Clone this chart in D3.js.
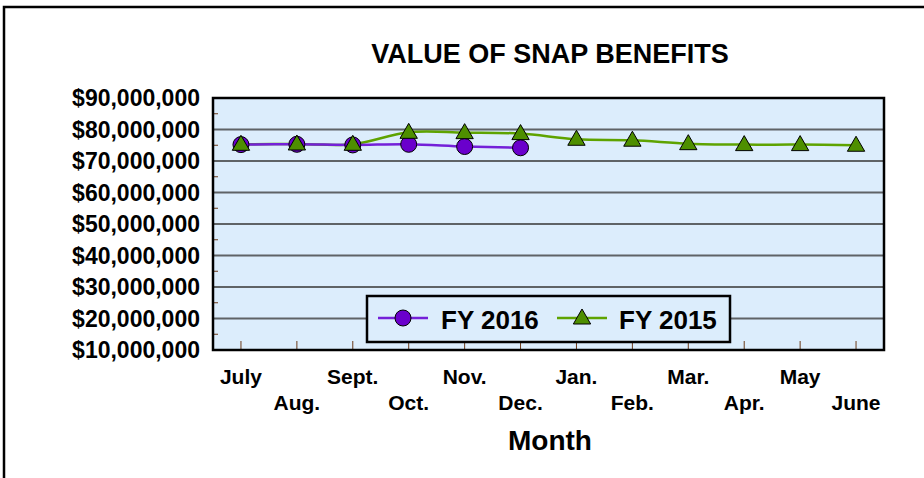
<!DOCTYPE html>
<html>
<head>
<meta charset="utf-8">
<script src="https://cdn.jsdelivr.net/npm/d3@7"></script>
<style>
body { margin: 0; background: #fff; }
svg text { font-family: Arial, "Liberation Sans", sans-serif; font-weight: bold; fill: #000; }
</style>
</head>
<body>
<svg id="chart" width="924" height="478"></svg>
<script>
// data
var months = ["July", "Aug.", "Sept.", "Oct.", "Nov.", "Dec.", "Jan.", "Feb.", "Mar.", "Apr.", "May", "June"];
var fy2016 = [75200000, 75300000, 75100000, 75300000, 74600000, 74200000];
var fy2015 = [75300000, 75400000, 75300000, 79100000, 79000000, 78700000, 76900000, 76600000, 75500000, 75200000, 75200000, 75000000];
var yTicks = [10000000, 20000000, 30000000, 40000000, 50000000, 60000000, 70000000, 80000000, 90000000];
var minorTicks = [15000000, 25000000, 35000000, 45000000, 55000000, 65000000, 75000000, 85000000];

var svg = d3.select("#chart");

// outer frame (only top/left visible)
svg.append("rect")
    .attr("x", 4).attr("y", 7)
    .attr("width", 940).attr("height", 500)
    .attr("fill", "none")
    .attr("stroke", "#000")
    .attr("stroke-width", 2.5);

var pLeft = 213, pTop = 98, pRight = 884, pBottom = 350;

var x = d3.scaleBand().domain(months).range([pLeft, pRight]);
var y = d3.scaleLinear().domain([10000000, 90000000]).range([pBottom, pTop]);

// plot background
svg.append("rect")
    .attr("x", pLeft).attr("y", pTop)
    .attr("width", pRight - pLeft).attr("height", pBottom - pTop)
    .attr("fill", "#dcedfc");

// gridlines
svg.append("g").selectAll("line")
    .data(yTicks.slice(1, -1))
    .enter().append("line")
    .attr("x1", pLeft).attr("x2", pRight)
    .attr("y1", function(d){ return y(d); })
    .attr("y2", function(d){ return y(d); })
    .attr("stroke", "#5f6366")
    .attr("stroke-width", 1.8);

// minor ticks on y axis (inside)
svg.append("g").selectAll("line")
    .data(minorTicks)
    .enter().append("line")
    .attr("x1", pLeft).attr("x2", pLeft + 5)
    .attr("y1", function(d){ return y(d); })
    .attr("y2", function(d){ return y(d); })
    .attr("stroke", "#6b3a1a")
    .attr("stroke-width", 1);

// x ticks (inside, pointing up)
svg.append("g").selectAll("line")
    .data(months)
    .enter().append("line")
    .attr("x1", function(d){ return x(d) + x.bandwidth() / 2; })
    .attr("x2", function(d){ return x(d) + x.bandwidth() / 2; })
    .attr("y1", pBottom).attr("y2", pBottom - 9)
    .attr("stroke", "#6b3a1a")
    .attr("stroke-width", 1);

// y labels
svg.append("g").selectAll("text")
    .data(yTicks)
    .enter().append("text")
    .attr("x", 200)
    .attr("y", function(d){ return y(d); })
    .attr("dy", "0.36em")
    .attr("text-anchor", "end")
    .attr("font-size", "23px")
    .text(function(d){ return d3.format("$,")(d); });

// x labels, staggered
svg.append("g").selectAll("text")
    .data(months)
    .enter().append("text")
    .attr("x", function(d){ return x(d) + x.bandwidth() / 2; })
    .attr("y", function(d, i){ return i % 2 === 0 ? 384 : 410; })
    .attr("text-anchor", "middle")
    .attr("font-size", "21px")
    .text(function(d){ return d; });

// titles
svg.append("text")
    .attr("x", 550).attr("y", 63)
    .attr("text-anchor", "middle")
    .attr("font-size", "27px")
    .text("VALUE OF SNAP BENEFITS");

svg.append("text")
    .attr("x", 550).attr("y", 450)
    .attr("text-anchor", "middle")
    .attr("font-size", "28px")
    .text("Month");

var cx = function(d, i){ return x(months[i]) + x.bandwidth() / 2; };

var line = d3.line()
    .x(cx)
    .y(function(d){ return y(d); })
    .curve(d3.curveCatmullRom.alpha(0.5));

var purple = "#6a00cc", purpleLine = "#7420d8";
var green = "#4e8f00", greenLine = "#5ea300";

svg.append("path")
    .datum(fy2015)
    .attr("d", line)
    .attr("fill", "none")
    .attr("stroke", greenLine)
    .attr("stroke-width", 2.5);

svg.append("path")
    .datum(fy2016)
    .attr("d", line)
    .attr("fill", "none")
    .attr("stroke", purpleLine)
    .attr("stroke-width", 2.5);

var tri = d3.symbol().type(d3.symbolTriangle).size(130);

svg.append("g").selectAll("circle")
    .data(fy2016)
    .enter().append("circle")
    .attr("cx", cx)
    .attr("cy", function(d){ return y(d); })
    .attr("r", 8)
    .attr("fill", purple)
    .attr("stroke", "#000")
    .attr("stroke-width", 1);

svg.append("g").selectAll("path")
    .data(fy2015)
    .enter().append("path")
    .attr("d", tri)
    .attr("transform", function(d, i){ return "translate(" + cx(d, i) + "," + (y(d) + 1) + ")"; })
    .attr("fill", green)
    .attr("stroke", "#000")
    .attr("stroke-width", 1);

// plot border
svg.append("rect")
    .attr("x", pLeft).attr("y", pTop)
    .attr("width", pRight - pLeft).attr("height", pBottom - pTop)
    .attr("fill", "none")
    .attr("stroke", "#000")
    .attr("stroke-width", 2.5);

// legend
var lg = svg.append("g");
lg.append("rect")
    .attr("x", 367).attr("y", 296)
    .attr("width", 363).attr("height", 46)
    .attr("fill", "#dcedfc")
    .attr("stroke", "#000")
    .attr("stroke-width", 2.5);

lg.append("line")
    .attr("x1", 378).attr("x2", 428).attr("y1", 318).attr("y2", 318)
    .attr("stroke", purpleLine).attr("stroke-width", 2.5);
lg.append("circle")
    .attr("cx", 403).attr("cy", 318).attr("r", 8)
    .attr("fill", purple).attr("stroke", "#000").attr("stroke-width", 1);
lg.append("text")
    .attr("x", 441).attr("y", 329)
    .attr("font-size", "26px")
    .text("FY 2016");

lg.append("line")
    .attr("x1", 557).attr("x2", 607).attr("y1", 318).attr("y2", 318)
    .attr("stroke", greenLine).attr("stroke-width", 2.5);
lg.append("path")
    .attr("d", tri)
    .attr("transform", "translate(582,319)")
    .attr("fill", green).attr("stroke", "#000").attr("stroke-width", 1);
lg.append("text")
    .attr("x", 619).attr("y", 329)
    .attr("font-size", "26px")
    .text("FY 2015");
</script>
</body>
</html>
